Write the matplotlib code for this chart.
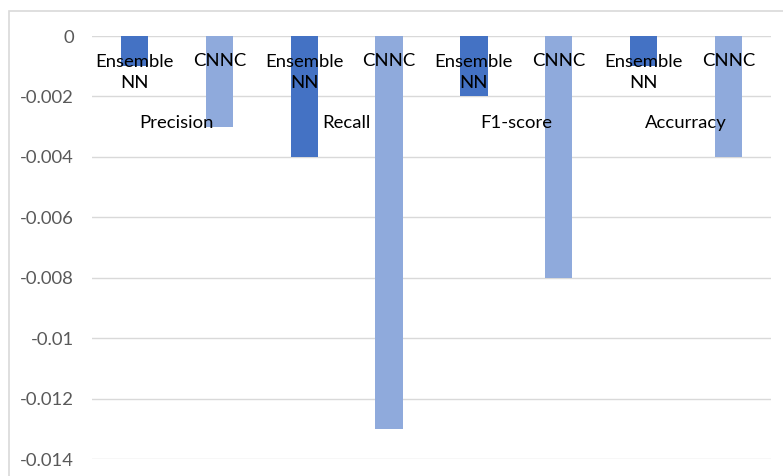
import matplotlib.pyplot as plt
from matplotlib.patches import Rectangle

metrics = ['Precision', 'Recall', 'F1-score', 'Accurracy']
models = ['Ensemble\nNN', 'CNNC']
ensemble_nn = [-0.001, -0.004, -0.002, -0.001]
cnnc = [-0.003, -0.013, -0.008, -0.004]
yticks = [0, -0.002, -0.004, -0.006, -0.008, -0.01, -0.012, -0.014]
ytick_labels = ['0', '-0.002', '-0.004', '-0.006', '-0.008', '-0.01', '-0.012', '-0.014']

colors = ['#4472C4', '#8FAADC']

plt.rcParams['font.family'] = ['Lato', 'DejaVu Sans']

W, H = 783, 476
fig = plt.figure(figsize=(W / 100, H / 100), dpi=100)
# light chart-area frame, clipped by the image on the right and bottom
fig.patches.append(Rectangle((9 / W, -0.1), 1.2, 1.1 - 11 / H, transform=fig.transFigure,
                             fill=False, edgecolor='#d9d9d9', linewidth=1.2))

ax = fig.add_axes([92 / W, 17 / H, (771 - 92) / W, (459 - 36) / H])
ax.set_xlim(0, 8)
ax.set_ylim(-0.014, 0)

fs = 13.3
for i in range(len(metrics)):
    vals = [ensemble_nn[i], cnnc[i]]
    for j in range(2):
        x = 2 * i + j + 0.5
        ax.bar(x, vals[j], width=0.32, color=colors[j], zorder=2)
        if j == 0:
            ax.text(x, 0.9137, models[j], transform=ax.get_xaxis_transform(),
                    ha='center', va='center', fontsize=fs, color='black',
                    linespacing=1.35, zorder=3)
        else:
            ax.text(x, 0.941, models[j], transform=ax.get_xaxis_transform(),
                    ha='center', va='center', fontsize=fs, color='black', zorder=3)
    ax.text(2 * i + 1, 0.794, metrics[i], transform=ax.get_xaxis_transform(),
            ha='center', va='center', fontsize=fs, color='black', zorder=3)

ax.set_yticks(yticks)
ax.set_yticklabels(ytick_labels)
ax.set_xticks([])
ax.tick_params(axis='y', length=0, labelsize=fs, labelcolor='#595959', pad=13)
ax.yaxis.grid(True, color='#d9d9d9', linewidth=1)
ax.set_axisbelow(True)
for s in ax.spines.values():
    s.set_visible(False)

fig.savefig('out.png', dpi=100)
